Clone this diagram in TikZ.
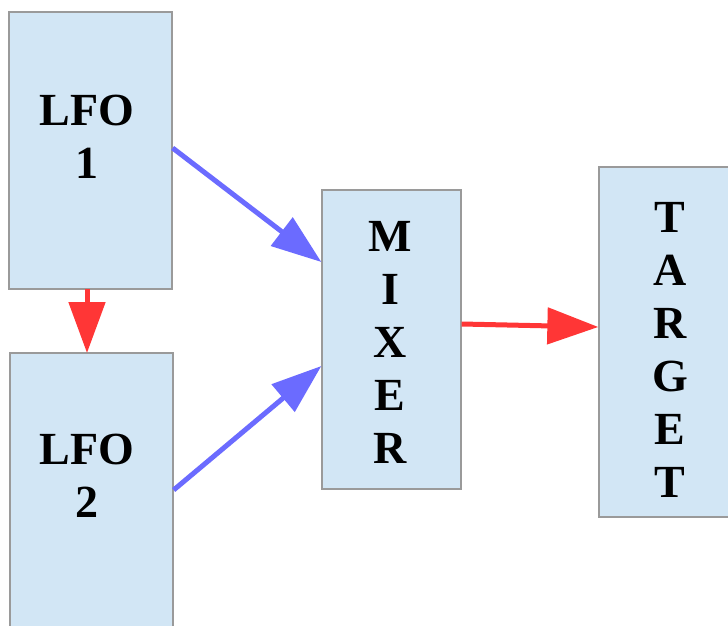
\documentclass[tikz,border=0pt]{standalone}
\usepackage{fontspec}
\setmainfont{Liberation Serif}
\usetikzlibrary{arrows.meta}
\definecolor{boxfill}{HTML}{D2E6F5}
\definecolor{boxline}{HTML}{9A9A9A}
\definecolor{bluearr}{HTML}{6B6BFF}
\definecolor{redarr}{HTML}{FF3636}
\begin{document}
\begin{tikzpicture}[x=1pt,y=-1pt,
  box/.style={draw=boxline,fill=boxfill,line width=1.3pt,rectangle,inner sep=0pt},
  lbl/.style={align=center,inner sep=0pt,font=\fontsize{46}{53}\selectfont\bfseries},
  barrow/.style={draw=bluearr,line width=5pt,-{Triangle[length=50pt,width=35pt]}},
  rarrow/.style={draw=redarr,line width=5pt,-{Triangle[length=51pt,width=36pt]}}]
\useasboundingbox (0,0) rectangle (728,626);
\clip (0,0) rectangle (728,626);
\node[box,minimum width=163pt,minimum height=277pt] (lfo1) at (90.5,150.5) {};
\node[box,minimum width=163pt,minimum height=297pt] (lfo2) at (91.5,501.5) {};
\node[box,minimum width=139pt,minimum height=299pt] (mixer) at (391.5,339.5) {};
\node[box,minimum width=160pt,minimum height=350pt] (target) at (679,342) {};
\node[lbl] (lfo1t) at (87,137) {LFO\\1};
\node[lbl] (lfo2t) at (87,476) {LFO\\2};
\node[lbl] (mixert) at (390,342) {M\\I\\X\\E\\R};
\node[lbl] (targett) at (670,350) {T\\A\\R\\G\\E\\T};
\draw[barrow] (lfo1.east |- 0,148) -- (mixer.west |- 0,262);
\draw[barrow] (lfo2.east |- 0,490) -- (mixer.west |- 0,366);
\draw[rarrow] (87,289) -- (87,353);
\draw[rarrow] (mixer.east |- 0,324) -- (target.west |- 0,327);
\end{tikzpicture}
\end{document}
